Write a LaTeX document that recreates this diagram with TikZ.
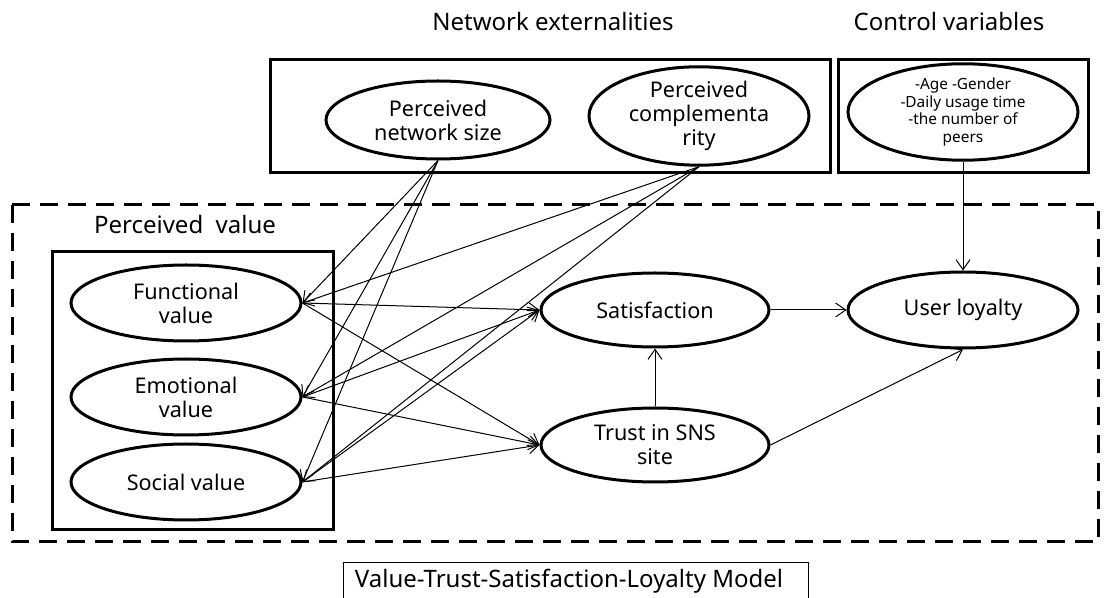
\documentclass[tikz,border=0pt]{standalone}
\usepackage{fontspec}
\setmainfont{Noto Sans}
\usetikzlibrary{shapes.geometric,arrows.meta}

\begin{document}
\begin{tikzpicture}[x=0.5pt, y=-0.5pt,
    construct/.style={ellipse, draw, line width=1.5pt, minimum width=115pt, minimum height=38pt,
        inner sep=0pt, align=center, font=\fontsize{10.8}{12}\selectfont},
    link/.style={-{Straight Barb[length=5pt,width=7pt]}, line width=0.5pt},
    groupbox/.style={draw, line width=1.5pt},
    heading/.style={font=\fontsize{12}{14}\selectfont}
]
\useasboundingbox (0,0) rectangle (1105,598);

% group frames
\draw[groupbox] (270,60) rectangle (830,173);
\draw[groupbox] (838,60) rectangle (1088,173);
\draw[line width=1.5pt, dash pattern=on 9pt off 5pt] (12,205) rectangle (1098,542);
\draw[groupbox] (52,252) rectangle (333,530);

\node[heading] (netlbl) at (553,22) {Network externalities};
\node[heading] (ctrllbl) at (949,22) {Control variables};
\node[heading] (pvlbl) at (185,225) {Perceived\ \ value};

% constructs
\node[construct, minimum width=112pt, minimum height=39pt] (pns) at (438,120) {Perceived\\network size};
\node[construct, minimum width=110pt, minimum height=39pt] (pc) at (699,116) {Perceived\\complementa\\rity};
\node[construct, font=\fontsize{7.7}{8.8}\selectfont] (ctrl) at (963,112) {-Age -Gender\\-Daily usage time\\-the number of\\peers};

\node[construct] (fv) at (186,303) {Functional\\value};
\node[construct] (ev) at (186,397) {Emotional\\value};
\node[construct] (sv) at (186,482) {Social value};

\node[construct, minimum width=114pt, minimum height=37pt] (sat) at (655,310) {Satisfaction};
\node[construct, minimum width=114pt, minimum height=37pt] (trust) at (655,445) {Trust in SNS\\site};
\node[construct] (ul) at (963,310) {User loyalty};

% network externalities -> perceived value
\draw[link] (pns.south) -- (fv.east);
\draw[link] (pns.south) -- (ev.east);
\draw[link] (pns.south) -- (sv.east);
\draw[link] (pc.south) -- (fv.east);
\draw[link] (pc.south) -- (ev.east);
\draw[link] (pc.south) -- (sv.east);

% perceived value -> satisfaction, trust
\draw[link] (fv.east) -- (sat.west);
\draw[link] (fv.east) -- (trust.west);
\draw[link] (ev.east) -- (sat.west);
\draw[link] (ev.east) -- (trust.west);
\draw[link] (sv.east) -- (sat.west);
\draw[link] (sv.east) -- (trust.west);

\draw[link] (trust.north) -- (sat.south);
\draw[link] (sat.east) -- (ul.west);
\draw[link] (trust.east) -- (ul.south);
\draw[link] (ctrl.south) -- (ul.north);

% model name
\node[heading] (model) at (569,581) {Value-Trust-Satisfaction-Loyalty Model};
\draw[line width=0.5pt] (343,600) |- (808,563) -- (808,600);
\end{tikzpicture}
\end{document}
